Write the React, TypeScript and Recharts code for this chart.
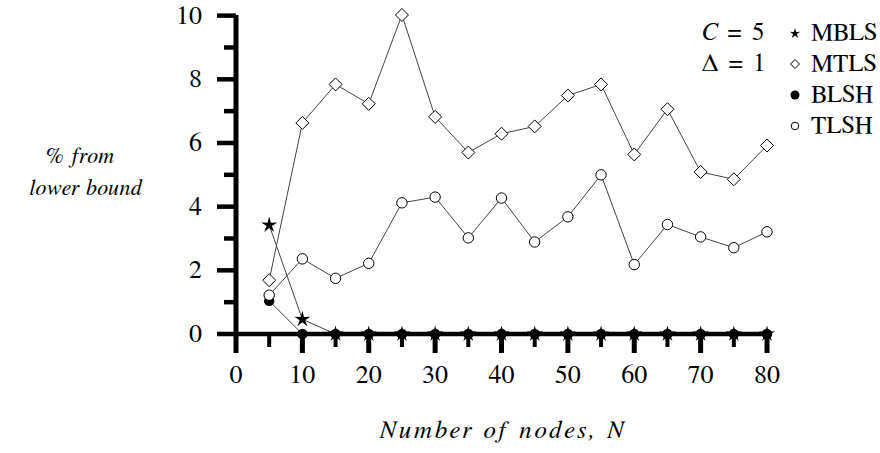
import { LineChart, Line, XAxis, YAxis, Legend } from 'recharts';

// values
const nodes = [5, 10, 15, 20, 25, 30, 35, 40, 45, 50, 55, 60, 65, 70, 75, 80];
const mbls = [3.42, 0.46, 0, 0, 0, 0, 0, 0, 0, 0, 0, 0, 0, 0, 0, 0];
const mtls = [1.69, 6.63, 7.84, 7.23, 10.02, 6.82, 5.7, 6.29, 6.52, 7.49, 7.84, 5.64, 7.06, 5.09, 4.86, 5.92];
const blsh = [1.04, 0, 0, 0, 0, 0, 0, 0, 0, 0, 0, 0, 0, 0, 0, 0];
const tlsh = [1.22, 2.36, 1.75, 2.22, 4.12, 4.3, 3.02, 4.27, 2.89, 3.68, 5.0, 2.18, 3.44, 3.05, 2.71, 3.21];

const xTicks = [0, 5, 10, 15, 20, 25, 30, 35, 40, 45, 50, 55, 60, 65, 70, 75, 80];
const yTicks = [0, 1, 2, 3, 4, 5, 6, 7, 8, 9, 10];

const legendNames = ['MBLS', 'MTLS', 'BLSH', 'TLSH'];

const data = nodes.map((n, i) => ({
  n,
  mbls: mbls[i],
  mtls: mtls[i],
  blsh: blsh[i],
  tlsh: tlsh[i],
}));

// the generic "serif" maps to a sans face here, FreeSerif gives the Times-like look
const FONT = 'FreeSerif, Tinos';

const starPath = (cx: number, cy: number, ro: number, ri: number) => {
  let d = '';
  for (let k = 0; k < 10; k++) {
    const r = k % 2 === 0 ? ro : ri;
    const a = -Math.PI / 2 + (k * Math.PI) / 5;
    d += (k === 0 ? 'M' : 'L') + (cx + r * Math.cos(a)) + ',' + (cy + r * Math.sin(a));
  }
  return d + 'Z';
};

const StarDot = (p: any) => <path key={p.index} d={starPath(p.cx, p.cy, 8.5, 2.8)} fill="#000" />;
const DiamondDot = (p: any) => (
  <path
    key={p.index}
    d={`M${p.cx},${p.cy - 6.5}L${p.cx + 6.5},${p.cy}L${p.cx},${p.cy + 6.5}L${p.cx - 6.5},${p.cy}Z`}
    fill="#fff"
    stroke="#000"
    strokeWidth={1}
  />
);
const FilledDot = (p: any) => <circle key={p.index} cx={p.cx} cy={p.cy} r={5.2} fill="#000" />;
const OpenDot = (p: any) => (
  <circle key={p.index} cx={p.cx} cy={p.cy} r={5.2} fill="#fff" stroke="#000" strokeWidth={1} />
);

const YTick = ({ x, y, payload }: any) => {
  const major = payload.value % 2 === 0;
  return (
    <g>
      <line x1={x} x2={x - (major ? 19 : 12)} y1={y} y2={y} stroke="#000" strokeWidth={4.5} />
      {major && (
        <text x={x - 34} y={y} textAnchor="end" dominantBaseline="central" fontSize={26} fontFamily={FONT} fill="#000">
          {payload.value}
        </text>
      )}
    </g>
  );
};

const XTick = ({ x, y, payload }: any) => {
  const major = payload.value % 10 === 0;
  return (
    <g>
      <line x1={x} x2={x} y1={y} y2={y + (major ? 19 : 13)} stroke="#000" strokeWidth={major ? 5 : 4} />
      {major && (
        <text x={x} y={y + 41} textAnchor="middle" dominantBaseline="central" fontSize={26} fontFamily={FONT} fill="#000">
          {payload.value}
        </text>
      )}
    </g>
  );
};

const LegendIcon = ({ i }: { i: number }) => (
  <svg width={16} height={16} style={{ position: 'absolute', left: 87, top: 8 }}>
    {i === 0 && <path d={starPath(8, 8.5, 5.5, 2)} fill="#000" />}
    {i === 1 && <path d="M8,3.5L12.5,8L8,12.5L3.5,8Z" fill="#fff" stroke="#000" strokeWidth={1} />}
    {i === 2 && <circle cx={8} cy={8} r={4.5} fill="#000" />}
    {i === 3 && <circle cx={8} cy={8} r={3.8} fill="#fff" stroke="#000" strokeWidth={1} />}
  </svg>
);

const LegendBox = () => (
  <div style={{ fontFamily: FONT, fontSize: 25, color: '#000', width: 180 }}>
    {legendNames.map((name, i) => (
      <div key={name} style={{ position: 'relative', height: 31, lineHeight: '31px' }}>
        <span style={{ position: 'absolute', left: 2, whiteSpace: 'nowrap', wordSpacing: 4 }}>
          {i === 0 && (
            <>
              <i>C</i> = 5
            </>
          )}
          {i === 1 && <>Δ = 1</>}
        </span>
        <LegendIcon i={i} />
        <span style={{ position: 'absolute', left: 111 }}>{name}</span>
      </div>
    ))}
  </div>
);

export default function App() {
  return (
    <div style={{ position: 'absolute', left: 0, top: 0, width: 880, height: 453, background: '#fff' }}>
      <LineChart width={880} height={453} data={data} margin={{ top: 15, right: 113, bottom: 0, left: 0 }}>
        <XAxis
          dataKey="n"
          type="number"
          domain={[0, 80]}
          ticks={xTicks}
          height={119}
          tickSize={0}
          tickMargin={0}
          tickLine={false}
          axisLine={{ stroke: '#000', strokeWidth: 4.5 }}
          tick={<XTick />}
          interval={0}
          label={{
            content: ({ viewBox }: any) => (
              <text
                x={viewBox.x + viewBox.width / 2}
                y={viewBox.y + 104}
                textAnchor="middle"
                fontSize={25}
                fontStyle="italic"
                fontFamily={FONT}
                letterSpacing={2.8}
                fill="#000"
              >
                Number of nodes, <tspan letterSpacing={0}>N</tspan>
              </text>
            ),
          }}
        />
        <YAxis
          type="number"
          domain={[0, 10]}
          ticks={yTicks}
          width={236}
          tickSize={0}
          tickMargin={0}
          tickLine={false}
          axisLine={{ stroke: '#000', strokeWidth: 5 }}
          tick={<YTick />}
          interval={0}
          label={{
            content: () => (
              <text textAnchor="middle" fontSize={22} fontStyle="italic" fontFamily={FONT} letterSpacing={0.6} fill="#000">
                <tspan x={80} y={163}>% from</tspan>
                <tspan x={86} y={195}>lower bound</tspan>
              </text>
            ),
          }}
        />
        <Legend
          layout="horizontal"
          align="center"
          verticalAlign="middle"
          content={<LegendBox />}
          wrapperStyle={{ top: 17, left: 700, width: 180 }}
        />
        <Line dataKey="mbls" stroke="#444" strokeWidth={1} dot={StarDot} activeDot={false} isAnimationActive={false} />
        <Line dataKey="mtls" stroke="#444" strokeWidth={1} dot={DiamondDot} activeDot={false} isAnimationActive={false} />
        <Line dataKey="blsh" stroke="#444" strokeWidth={1} dot={FilledDot} activeDot={false} isAnimationActive={false} />
        <Line dataKey="tlsh" stroke="#444" strokeWidth={1} dot={OpenDot} activeDot={false} isAnimationActive={false} />
      </LineChart>
    </div>
  );
}
